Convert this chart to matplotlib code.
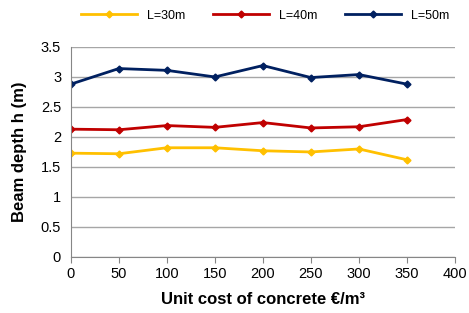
import matplotlib
matplotlib.use("Agg")
import matplotlib.pyplot as plt

plt.rcParams['font.family'] = ['Liberation Sans', 'DejaVu Sans']

cost = [0, 50, 100, 150, 200, 250, 300, 350]
h_30 = [1.73, 1.72, 1.82, 1.82, 1.77, 1.75, 1.80, 1.62]
h_40 = [2.13, 2.12, 2.19, 2.16, 2.24, 2.15, 2.17, 2.29]
h_50 = [2.88, 3.14, 3.11, 3.00, 3.19, 2.99, 3.04, 2.88]
labels = ["L=30m", "L=40m", "L=50m"]
colors = ["#FFC000", "#C00000", "#002060"]

fig = plt.figure(figsize=(4.69, 3.13), dpi=100)
ax = fig.add_axes([0.151, 0.179, 0.819, 0.671])

for h, lab, c in zip([h_30, h_40, h_50], labels, colors):
    ax.plot(cost, h, color=c, lw=2, marker="D", ms=3.5, label=lab)

ax.set_xlim(0, 400)
ax.set_ylim(0, 3.5)
ax.set_xticks(range(0, 401, 50))
ax.set_yticks([0, 0.5, 1, 1.5, 2, 2.5, 3, 3.5])
ax.set_yticklabels(["0", "0.5", "1", "1.5", "2", "2.5", "3", "3.5"])
ax.grid(axis="y", color="#A6A6A6", lw=1)
ax.set_axisbelow(True)
for s in ["top", "right"]:
    ax.spines[s].set_visible(False)
ax.spines["left"].set_color("#868686")
ax.spines["bottom"].set_color("#868686")
ax.tick_params(axis="y", length=0, labelsize=10.5, pad=7)
ax.tick_params(axis="x", length=4, color="#868686", labelsize=10.5, direction="out", pad=3)

ax.set_xlabel("Unit cost of concrete €/m³", fontsize=12, fontweight="bold", labelpad=8)
ax.set_ylabel("Beam depth h (m)", fontsize=12, fontweight="bold", labelpad=10)

fig.legend(loc="upper center", bbox_to_anchor=(0.565, 1.005), ncol=3, frameon=False,
           fontsize=9, handlelength=4.5, columnspacing=2.2)

fig.savefig("out.png", dpi=100)
